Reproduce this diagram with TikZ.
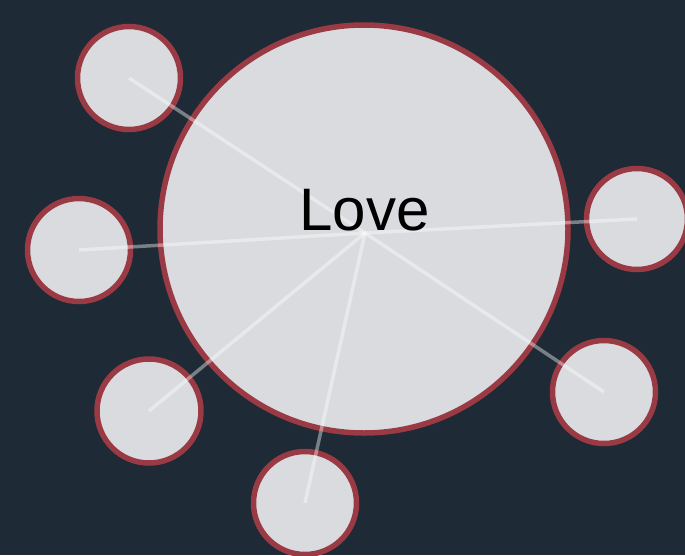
\documentclass[tikz,border=0pt]{standalone}
\usepackage{fontspec}
\setmainfont{Liberation Sans}
\definecolor{bg}{HTML}{1E2A35}
\definecolor{ring}{HTML}{9A3A44}
\definecolor{disc}{HTML}{DADBDF}
\begin{document}
\begin{tikzpicture}[x=1pt,y=-1pt,
  bubble/.style={circle,draw=ring,fill=disc,line width=5.5pt,inner sep=0pt,outer sep=0pt},
  spoke/.style={draw=white,draw opacity=0.4,line width=3.5pt}]
\fill[bg] (0,0) rectangle (685,555);
\useasboundingbox (0,0) rectangle (685,555);
\node[bubble,minimum size=408pt] (big) at (364,229) {};
\node[bubble,minimum size=103pt] (tl) at (129,78) {};
\node[bubble,minimum size=103pt] (l) at (79,250) {};
\node[bubble,minimum size=101pt] (r) at (637,219) {};
\node[bubble,minimum size=104pt] (bl) at (149,411) {};
\node[bubble,minimum size=103pt] (b) at (305,503) {};
\node[bubble,minimum size=103pt] (br) at (604,392) {};
\coordinate (hub) at (365,233);
\foreach \t in {tl,l,r,bl,b,br}{\draw[spoke] (hub) -- (\t.center);}
\node[anchor=base,font=\fontsize{60}{60}\selectfont,inner sep=0pt,text=black] (love) at (364.5,230) {Love};
\end{tikzpicture}
\end{document}
